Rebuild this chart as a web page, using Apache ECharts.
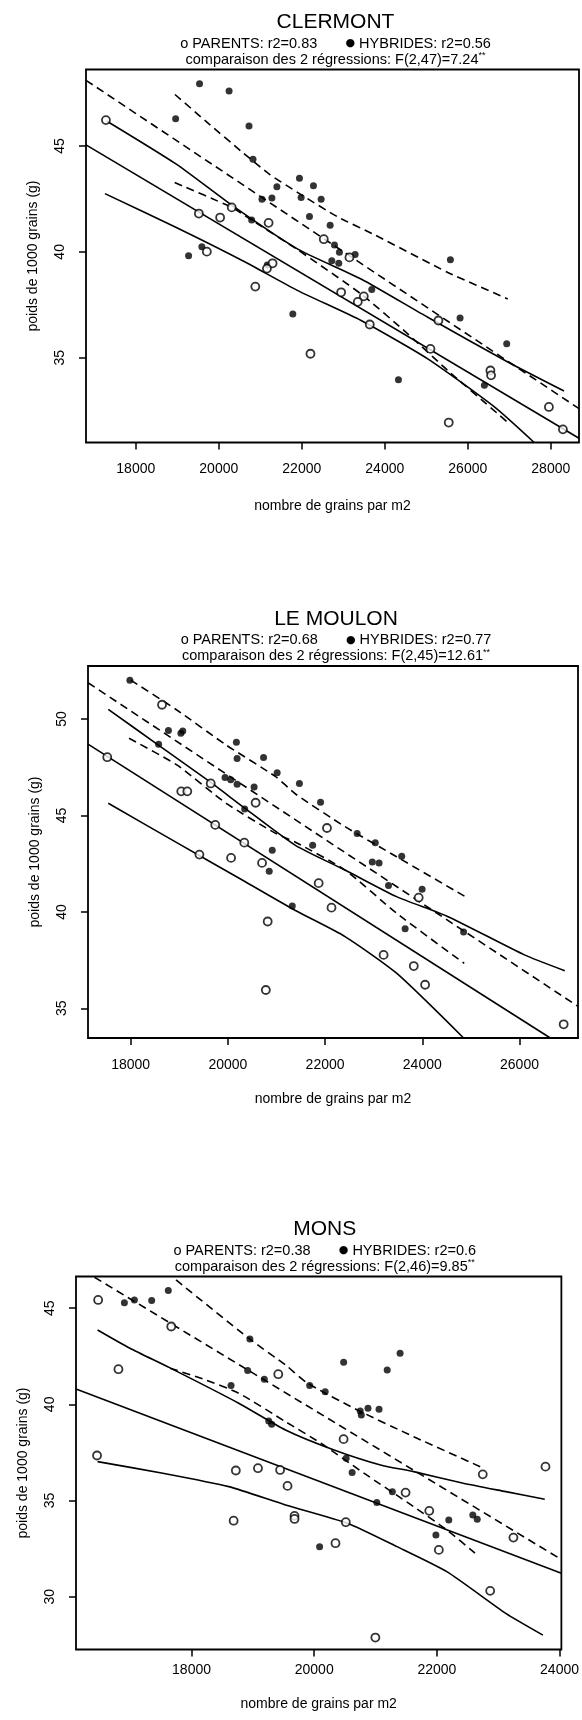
<!DOCTYPE html>
<html>
<head>
<meta charset="utf-8">
<script src="https://cdn.jsdelivr.net/npm/echarts@6/dist/echarts.min.js"></script>
<style>
  html, body { margin: 0; padding: 0; background: #fff; }
  #chart { width: 582px; height: 1720px; }
</style>
</head>
<body>
<div id="chart"></div>
<script>
// ---- CLERMONT ----
const clermontParents = [[17280,46.22],[19520,41.81],[20032,41.62],[20312,42.10],[21200,41.37],[19712,40.01],[21296,39.46],[21160,39.21],[20880,38.36],[22530,40.60],[23148,39.74],[22948,38.09],[23494,37.90],[23349,37.64],[23638,36.57],[22209,35.19],[25292,36.76],[25100,35.42],[26545,34.40],[26561,34.17],[25541,31.94],[27955,32.68],[28292,31.62]];
const clermontHybrides = [[19536,47.94],[20248,47.59],[18960,46.29],[20728,45.94],[20824,44.37],[21944,43.48],[22281,43.12],[21400,43.07],[21984,42.57],[22466,42.49],[21040,42.49],[21280,42.54],[22185,41.67],[22683,41.26],[22787,40.32],[22907,39.98],[22723,39.58],[22891,39.46],[23285,39.87],[23686,38.22],[19272,39.82],[19592,40.24],[21784,37.07],[24329,33.96],[25581,39.63],[25814,36.88],[26400,33.70],[26938,35.66],[21168,39.38],[20792,41.50]];
const clermontParFit = [[16800,45.05],[28680,31.2]];
const clermontParUp = [[17296,46.18],[18976,44.14],[20336,42.17],[21904,40.13],[23429,38.72],[25035,36.91],[26963,34.80],[28319,33.43]];
const clermontParLo = [[17256,42.75],[18976,41.15],[20576,39.58],[21904,38.17],[23429,36.76],[25035,34.95],[26641,32.68],[27600,31.0]];
const clermontHybFit = [[16800,48.1],[28680,32.6]];
const clermontHybUp = [[18944,47.43],[19776,46.02],[20576,44.69],[21216,43.67],[21904,42.8],[22867,41.65],[23761,40.8],[25517,39.03],[26963,37.78]];
const clermontHybLo = [[18936,43.27],[20312,42.10],[20792,41.5],[21900,40.1],[23429,38.01],[24553,36.13],[25517,34.40],[26722,32.36],[26950,31.97]];
const clermontXTicks = [18000, 20000, 22000, 24000, 26000, 28000];
const clermontYTicks = [35, 40, 45];

// ---- LE MOULON ----
const moulonParents = [[18645,50.74],[17518,48.02],[19647,46.66],[19041,46.25],[19165,46.25],[20571,45.66],[19740,44.51],[20338,43.59],[22039,44.35],[19414,42.97],[20066,42.80],[20703,42.54],[21868,41.49],[22132,40.22],[20819,39.50],[23926,40.74],[23204,37.77],[23825,37.19],[24058,36.22],[20781,35.95],[26909,34.17]];
const moulonHybrides = [[17984,52.01],[18575,48.69],[18777,49.40],[19033,49.26],[19072,49.38],[20175,48.79],[20190,47.95],[20734,48.00],[21014,47.21],[21472,46.66],[19942,46.97],[20058,46.85],[20190,46.62],[20540,46.47],[21907,45.68],[20346,45.33],[22660,44.06],[21744,43.46],[20913,43.20],[20851,42.11],[23033,43.58],[22971,42.58],[23111,42.54],[23577,42.89],[23305,41.37],[23996,41.17],[23647,39.13],[24850,38.96],[21325,40.31]];
const moulonParFit = [[17122,48.7],[26634,33.46]];
const moulonParUp = [[17539,50.50],[18542,48.70],[19627,46.75],[20305,45.46],[21390,43.45],[22410,42.17],[23471,40.79],[24531,39.75],[26101,37.77],[26932,36.95]];
const moulonParLo = [[17539,45.63],[18949,43.59],[20305,41.64],[21390,40.07],[22410,38.72],[23471,36.82],[24850,33.46]];
const moulonHybFit = [[17122,51.88],[27204,35.1]];
const moulonHybUp = [[18000,52.02],[18949,50.47],[19966,48.65],[20983,47.01],[21400,46.1],[22410,44.42],[23471,42.86],[24885,40.79]];
const moulonHybLo = [[17966,49.0],[18949,47.62],[19966,45.63],[20983,44.07],[21400,43.6],[22410,42.17],[23471,39.93],[24863,37.33]];
const moulonXTicks = [18000, 20000, 22000, 24000, 26000];
const moulonYTicks = [35, 40, 45, 50];

// ---- MONS ----
const monsParents = [[16477,45.43],[17669,44.05],[16808,41.83],[19414,41.57],[16459,37.34],[18722,36.56],[19083,36.68],[19444,36.59],[19565,35.76],[20479,38.19],[18686,33.95],[19679,34.20],[19679,34.04],[20515,33.87],[20347,32.78],[21490,35.41],[21876,34.46],[22032,32.43],[22748,36.36],[23248,33.07],[22869,30.30],[23771,36.76],[20997,27.87]];
const monsHybrides = [[16905,45.29],[17068,45.43],[17350,45.40],[17621,45.92],[18951,43.40],[18915,41.76],[19186,41.31],[18644,40.98],[19926,40.98],[20179,40.66],[20480,42.19],[21190,41.79],[21400,42.66],[20750,39.66],[20768,39.45],[20877,39.80],[21057,39.75],[19258,39.14],[19306,38.97],[20521,37.20],[20618,36.45],[21274,35.46],[21021,34.89],[22194,33.99],[22586,34.25],[22658,34.02],[21984,33.21],[20088,32.60]];
const monsParFit = [[16116,40.80],[24030,31.21]];
const monsParUp = [[16468,43.87],[16995,42.92],[17640,41.91],[18769,40.06],[19532,38.67],[20324,37.63],[21081,36.85],[21622,36.50],[22432,35.90],[23124,35.46],[23759,35.06]];
const monsParLo = [[16468,37.02],[17532,36.42],[18607,35.72],[19532,34.77],[20540,33.82],[21351,32.60],[22162,31.30],[23124,29.13],[23729,28.0]];
const monsHybFit = [[16417,46.61],[24030,31.93]];
const monsHybUp = [[17747,46.47],[18930,43.44],[19532,42.05],[19892,41.10],[20703,39.71],[21622,38.32],[22706,36.76]];
const monsHybLo = [[17651,41.88],[18231,41.27],[18769,40.58],[19532,39.10],[20108,37.98],[20811,36.42],[21622,34.68],[22162,33.47],[22622,32.26]];
const monsXTicks = [18000, 20000, 22000, 24000];
const monsYTicks = [30, 35, 40, 45];

const FONT = "'Liberation Sans', Arial, Helvetica, 'DejaVu Sans', sans-serif";

const panels = [
  { name: 'CLERMONT', r1: '0.83', r2: '0.56', f: 'F(2,47)=7.24',
    grid: { left: 86, top: 69.5, width: 493, height: 373 },
    x: [16800, 28680], y: [31.0, 48.61], xt: clermontXTicks, yt: clermontYTicks,
    lblMargin: 20, nameGap: 57,
    par: clermontParents, hyb: clermontHybrides,
    lines: [clermontParFit, clermontParUp, clermontParLo, clermontHybFit, clermontHybUp, clermontHybLo] },
  { name: 'LE MOULON', r1: '0.68', r2: '0.77', f: 'F(2,45)=12.61',
    grid: { left: 88, top: 666, width: 490, height: 372 },
    x: [17122, 27204], y: [33.46, 52.75], xt: moulonXTicks, yt: moulonYTicks,
    lblMargin: 20, nameGap: 54,
    par: moulonParents, hyb: moulonHybrides,
    lines: [moulonParFit, moulonParUp, moulonParLo, moulonHybFit, moulonHybUp, moulonHybLo] },
  { name: 'MONS', r1: '0.38', r2: '0.6', f: 'F(2,46)=9.85',
    grid: { left: 76, top: 1276.5, width: 491.5, height: 373 },
    x: [16116, 24030], y: [27.25, 46.65], xt: monsXTicks, yt: monsYTicks,
    lblMargin: 14, nameGap: 48,
    par: monsParents, hyb: monsHybrides,
    lines: [monsParFit, monsParUp, monsParLo, monsHybFit, monsHybUp, monsHybLo] }
];

const option = { animation: false, backgroundColor: '#fff', title: [], grid: [], xAxis: [], yAxis: [], series: [] };

panels.forEach((p, i) => {
  const cx = p.grid.left + p.grid.width / 2 + 3;
  option.title.push({
    text: p.name,
    subtext: 'o PARENTS: r2=' + p.r1 + '       {d|●} HYBRIDES: r2=' + p.r2 +
             '\ncomparaison des 2 régressions: ' + p.f + '{s|**}',
    left: cx, top: p.grid.top - 58, textAlign: 'center', padding: 0, itemGap: 2,
    textStyle: { fontFamily: FONT, fontSize: 21, fontWeight: 'normal', color: '#000', lineHeight: 22 },
    subtextStyle: {
      fontFamily: FONT, fontSize: 14.5, color: '#000', lineHeight: 16,
      rich: {
        d: { fontFamily: "'DejaVu Sans'", fontSize: 11, color: '#000' },
        s: { fontFamily: FONT, fontSize: 9, color: '#000', verticalAlign: 'top', lineHeight: 16 }
      }
    }
  });
  option.grid.push(Object.assign({ show: true, borderColor: '#000', borderWidth: 1.8, containLabel: false }, p.grid));
  option.xAxis.push({
    type: 'value', gridIndex: i, min: p.x[0], max: p.x[1],
    name: 'nombre de grains par m2', nameLocation: 'middle', nameGap: p.nameGap,
    nameTextStyle: { fontFamily: FONT, fontSize: 14, color: '#000' },
    axisLine: { show: false },
    axisTick: { show: true, length: 7, customValues: p.xt, lineStyle: { color: '#000', width: 1.5 } },
    axisLabel: { customValues: p.xt, formatter: v => String(v), margin: p.lblMargin,
                 fontFamily: FONT, fontSize: 14, color: '#000' },
    splitLine: { show: false }
  });
  option.yAxis.push({
    type: 'value', gridIndex: i, min: p.y[0], max: p.y[1],
    name: 'poids de 1000 grains (g)', nameLocation: 'middle', nameGap: 46,
    nameTextStyle: { fontFamily: FONT, fontSize: 14, color: '#000' },
    axisLine: { show: false },
    axisTick: { show: true, length: 7, customValues: p.yt, lineStyle: { color: '#000', width: 1.5 } },
    axisLabel: { customValues: p.yt, formatter: v => String(v), rotate: 90, margin: 19,
                 fontFamily: FONT, fontSize: 14, color: '#000' },
    splitLine: { show: false }
  });
  p.lines.forEach((d, k) => {
    const band = k % 3 !== 0;
    option.series.push({
      type: 'line', xAxisIndex: i, yAxisIndex: i, data: d, showSymbol: false, silent: true,
      smooth: band ? 0.2 : false, clip: true,
      lineStyle: { color: '#000', width: 1.6, type: k < 3 ? 'solid' : [8, 5] },
      z: 2
    });
  });
  option.series.push({
    type: 'scatter', xAxisIndex: i, yAxisIndex: i, data: p.hyb, symbol: 'circle', symbolSize: 7,
    itemStyle: { color: '#000' }, z: 3
  });
  option.series.push({
    type: 'scatter', xAxisIndex: i, yAxisIndex: i, data: p.par, symbol: 'circle', symbolSize: 8,
    itemStyle: { color: '#fff', borderColor: '#000', borderWidth: 1.8 }, z: 4
  });
});

const chart = echarts.init(document.getElementById('chart'));
chart.setOption(option);
</script>
</body>
</html>
